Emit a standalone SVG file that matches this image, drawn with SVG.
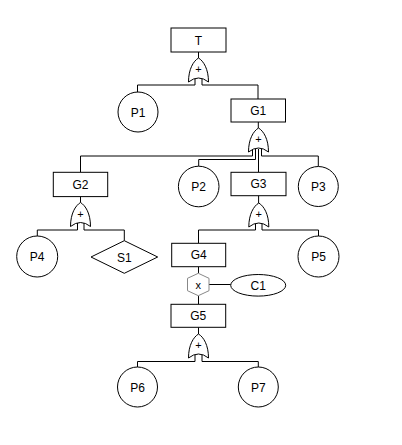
<svg xmlns="http://www.w3.org/2000/svg" xmlns:xlink="http://www.w3.org/1999/xlink" width="402" height="445" viewBox="0 0 402 445">
<style>
.n{fill:#fff;stroke:#000;stroke-width:1}
.hex{fill:#fff;stroke:#888;stroke-width:1}
.c{fill:none;stroke:#000;stroke-width:1}
.t{font-family:"Liberation Sans",Arial,sans-serif;font-size:12px;fill:#000;text-anchor:middle}
.s{font-family:"Liberation Sans",Arial,sans-serif;font-size:11px;fill:#000;text-anchor:middle}
</style>
<defs>
<path id="or" d="M0,0 C5,3 10,11 10,24 Q0,16 -10,24 C-10,11 -5,3 0,0 Z" class="n"/>
</defs>
<rect width="402" height="445" fill="#fff"/>
<g id="connectors">
<path class="c" d="M198.5,52 V58"/>
<path class="c" d="M195,78.5 V85 H137.5 V92"/>
<path class="c" d="M202,78.5 V85 H258 V99"/>
<path class="c" d="M258.3,122 V128"/>
<path class="c" d="M252.5,149 V156 H80.5 V172"/>
<path class="c" d="M255.5,149 V159.5 H198.7 V166"/>
<path class="c" d="M258.5,149 V172"/>
<path class="c" d="M261.5,149 V156 H318.3 V166"/>
<path class="c" d="M80.5,196.5 V202.5"/>
<path class="c" d="M77.5,223 V230 H37.3 V236"/>
<path class="c" d="M84,223 V230 H124.3 V240.7"/>
<path class="c" d="M258.6,195.5 V203"/>
<path class="c" d="M255.5,223.5 V230 H198.5 V243.3"/>
<path class="c" d="M262,223.5 V230 H318.5 V236"/>
<path class="c" d="M198.5,266.7 V273.3"/>
<path class="c" d="M209,284.5 H230.7"/>
<path class="c" d="M198.5,295.7 V304.3"/>
<path class="c" d="M198.5,327.3 V334"/>
<path class="c" d="M195,354.5 V361.5 H137.5 V367"/>
<path class="c" d="M202,354.5 V361.5 H258.3 V367"/>
</g>
<g id="T"><rect class="n" x="171" y="28" width="55" height="24"/><text class="t" x="198.5" y="44.5">T</text></g>
<g id="gT"><use xlink:href="#or" href="#or" x="198.5" y="58"/><text class="s" x="198.5" y="73">+</text></g>
<g id="P1"><circle class="n" cx="138" cy="112" r="20"/><text class="t" x="138" y="116.5">P1</text></g>
<g id="G1"><rect class="n" x="231" y="99" width="54.5" height="23"/><text class="t" x="258.3" y="115">G1</text></g>
<g id="gG1"><use xlink:href="#or" href="#or" x="258.5" y="128"/><text class="s" x="258.5" y="143">+</text></g>
<g id="G2"><rect class="n" x="53.3" y="172.3" width="54.4" height="24.3"/><text class="t" x="80.5" y="188.5">G2</text></g>
<g id="gG2"><use xlink:href="#or" href="#or" x="80.5" y="202.5"/><text class="s" x="80.5" y="217.5">+</text></g>
<g id="P2"><circle class="n" cx="198.7" cy="186.5" r="20.3"/><text class="t" x="198.7" y="191">P2</text></g>
<g id="G3"><rect class="n" x="231" y="172.3" width="55" height="23.4"/><text class="t" x="258.5" y="188">G3</text></g>
<g id="gG3"><use xlink:href="#or" href="#or" x="258.8" y="203"/><text class="s" x="258.8" y="218">+</text></g>
<g id="P3"><circle class="n" cx="318.3" cy="186.5" r="20"/><text class="t" x="318.3" y="191">P3</text></g>
<g id="P4"><circle class="n" cx="37.2" cy="256.5" r="20.5"/><text class="t" x="37.2" y="261">P4</text></g>
<g id="S1"><polygon class="n" points="124.3,240.7 157.7,257 124.3,273.3 91,257"/><text class="t" x="124.3" y="261.5">S1</text></g>
<g id="G4"><rect class="n" x="171.7" y="243.3" width="54" height="23.4"/><text class="t" x="198.7" y="259">G4</text></g>
<g id="P5"><circle class="n" cx="318.5" cy="256.5" r="20.5"/><text class="t" x="318.5" y="261">P5</text></g>
<g id="X"><polygon class="hex" points="198.3,273.3 209,278.3 209,290.7 198.3,295.7 187.5,290.7 187.5,278.3"/><text class="s" x="198.3" y="288.5">x</text></g>
<g id="C1"><ellipse class="n" cx="258.2" cy="285.3" rx="27.5" ry="10.8"/><text class="t" x="258.2" y="289.5">C1</text></g>
<g id="G5"><rect class="n" x="171" y="304.3" width="54.7" height="23"/><text class="t" x="198.3" y="320">G5</text></g>
<g id="gG5"><use xlink:href="#or" href="#or" x="198.5" y="334"/><text class="s" x="198.5" y="349">+</text></g>
<g id="P6"><circle class="n" cx="137.5" cy="387" r="20"/><text class="t" x="137.5" y="391.5">P6</text></g>
<g id="P7"><circle class="n" cx="258.3" cy="387" r="20"/><text class="t" x="258.3" y="391.5">P7</text></g>
</svg>
